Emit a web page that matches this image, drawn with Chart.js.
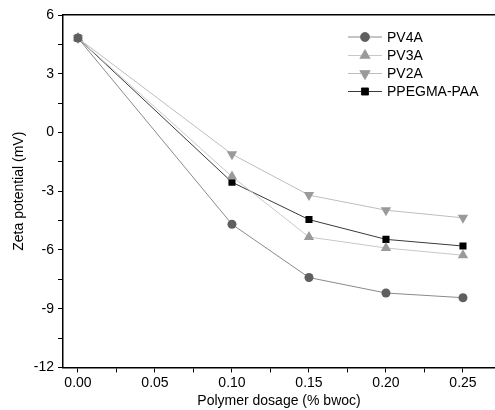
<!DOCTYPE html>
<html>
<head>
<meta charset="utf-8">
<script src="https://cdn.jsdelivr.net/npm/chart.js@4.4.1/dist/chart.umd.min.js"></script>
<style>
html,body{margin:0;padding:0;background:#fff;overflow:hidden;}
#outer{width:495px;height:410px;overflow:hidden;position:relative;}
#wrap{width:501px;height:410px;position:relative;}
</style>
</head>
<body>
<div id="outer"><div id="wrap"><canvas id="c"></canvas></div></div>
<script>
const dosage = [0.00, 0.10, 0.15, 0.20, 0.25];
const pv4a = [4.82, -4.69, -7.41, -8.20, -8.44];
const pv3a = [4.82, -2.25, -5.34, -5.90, -6.27];
const pv2a = [4.82, -1.11, -3.20, -3.97, -4.36];
const ppegma = [4.82, -2.54, -4.45, -5.46, -5.80];
const seriesLabels = ['PV4A', 'PV3A', 'PV2A', 'PPEGMA-PAA'];
const xTicks = [0, 0.025, 0.05, 0.075, 0.10, 0.125, 0.15, 0.175, 0.20, 0.225, 0.25];
const xTickLabels = ['0.00', '', '0.05', '', '0.10', '', '0.15', '', '0.20', '', '0.25'];
const yTicks = [-12, -10.5, -9, -7.5, -6, -4.5, -3, -1.5, 0, 1.5, 3, 4.5, 6];
const yTickLabels = ['-12', '', '-9', '', '-6', '', '-3', '', '0', '', '3', '', '6'];

const pts = arr => arr.map((v, i) => ({x: dosage[i], y: v}));
const FONT = "'Liberation Sans', Arial, sans-serif";

const datasets = [
  {label: seriesLabels[0], data: pts(pv4a), borderColor: '#8a8a8a', backgroundColor: '#5f5f5f',
   pointStyle: 'circle', pointRadius: 4.5, borderWidth: 1, pointBorderColor: '#5f5f5f', pointBorderWidth: 0},
  {label: seriesLabels[1], data: pts(pv3a), borderColor: '#c8c8c8', backgroundColor: '#9a9a9a',
   pointStyle: 'triangle', pointRadius: 6, borderWidth: 1, pointBorderColor: '#9a9a9a', pointBorderWidth: 0},
  {label: seriesLabels[2], data: pts(pv2a), borderColor: '#bdbdbd', backgroundColor: '#9a9a9a',
   pointStyle: 'triangle', rotation: 180, pointRotation: 180, pointRadius: 6, borderWidth: 1, pointBorderColor: '#9a9a9a', pointBorderWidth: 0},
  {label: seriesLabels[3], data: pts(ppegma), borderColor: '#3a3a3a', backgroundColor: '#000000',
   pointStyle: 'rect', pointRadius: 5, borderWidth: 1, pointBorderColor: '#000', pointBorderWidth: 0}
];

const legendPlugin = {
  id: 'customLegend',
  afterDatasetsDraw(chart) {
    const ctx = chart.ctx;
    const x0 = 348, x1 = 382, xm = 365, xt = 387;
    const ys = [37, 55.5, 73.5, 91.5];
    chart.data.datasets.forEach((ds, i) => {
      const y = ys[i];
      ctx.save();
      ctx.strokeStyle = ds.borderColor;
      ctx.lineWidth = 1;
      ctx.beginPath(); ctx.moveTo(x0, y); ctx.lineTo(x1, y); ctx.stroke();
      Chart.helpers.drawPoint(ctx, {
        pointStyle: ds.pointStyle, radius: ds.pointRadius, rotation: ds.pointRotation || 0,
        borderWidth: 0.01, borderColor: ds.backgroundColor
      }, xm, y);
      ctx.fillStyle = ds.backgroundColor;
      ctx.fill();
      ctx.fillStyle = '#000';
      ctx.font = "14px " + FONT;
      ctx.textBaseline = 'middle';
      ctx.textAlign = 'left';
      ctx.fillText(ds.label, xt, y + 1);
      ctx.restore();
    });
  }
};

const noPad = s => { s.paddingRight = 0; s.paddingLeft = 0; };

new Chart(document.getElementById('c'), {
  type: 'line',
  data: {datasets},
  options: {
    responsive: true,
    maintainAspectRatio: false,
    animation: false,
    layout: {padding: {top: 15, right: 0, left: 8, bottom: 0}},
    plugins: {legend: {display: false}, tooltip: {enabled: false}},
    elements: {line: {tension: 0}},
    scales: {
      x: {
        type: 'linear', min: -0.0097, max: 0.2708,
        afterBuildTicks: s => { s.ticks = xTicks.map(v => ({value: v})); },
        afterFit: noPad,
        ticks: {autoSkip: false, maxRotation: 0, color: '#000', font: {family: FONT, size: 14}, padding: 2,
          callback: (v, i) => xTickLabels[i]},
        grid: {drawOnChartArea: false, drawTicks: true, tickLength: 5, color: '#000', tickWidth: 1},
        border: {display: true, color: '#000', width: 1.5},
        title: {display: true, text: 'Polymer dosage (% bwoc)', color: '#000', font: {family: FONT, size: 14}, padding: {top: 0, bottom: 0}}
      },
      xTop: {
        type: 'linear', position: 'top', min: -0.0097, max: 0.2708,
        afterFit: noPad,
        ticks: {display: false},
        grid: {display: false, drawTicks: false},
        border: {display: true, color: '#000', width: 1.5}
      },
      y: {
        type: 'linear', min: -12, max: 6,
        afterBuildTicks: s => { s.ticks = yTicks.map(v => ({value: v})); },
        afterFit: s => { s.paddingTop = 0; s.paddingBottom = 0; },
        ticks: {autoSkip: false, color: '#000', font: {family: FONT, size: 14}, padding: 4,
          callback: (v, i) => yTickLabels[i]},
        grid: {drawOnChartArea: false, drawTicks: true, tickLength: 5, color: '#000', tickWidth: 1},
        border: {display: true, color: '#000', width: 1.5},
        title: {display: true, text: 'Zeta potential (mV)', color: '#000', font: {family: FONT, size: 14}, padding: {top: 3, bottom: 2}}
      }
    }
  },
  plugins: [legendPlugin]
});
</script>
</body>
</html>
